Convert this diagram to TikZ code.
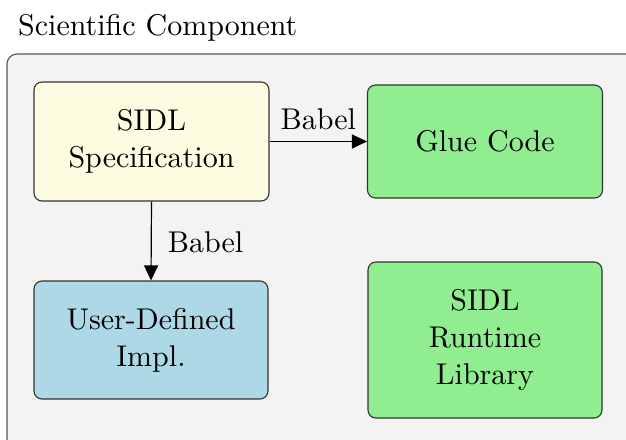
\documentclass[tikz,border=0pt]{standalone}
\usepackage{fontspec}
\setmainfont{lmroman10-regular}[Extension=.otf]
\usetikzlibrary{arrows.meta}
\definecolor{contfill}{HTML}{F3F3F3}
\definecolor{contdraw}{HTML}{555555}
\definecolor{specfill}{HTML}{FDFCE0}
\definecolor{implfill}{HTML}{ADD8E6}
\definecolor{gluefill}{HTML}{90EE90}
\definecolor{boxdraw}{HTML}{333333}
\tikzset{
  box/.style={draw=boxdraw, line width=1.1pt, rounded corners=8pt, align=center,
    font=\fontsize{30}{37}\selectfont, inner sep=0pt},
  conn/.style={line width=1.2pt, -{Triangle[length=15pt,width=14pt]}},
  lbl/.style={font=\fontsize{30}{37}\selectfont, inner sep=0pt}
}
\begin{document}
\begin{tikzpicture}[x=1pt,y=-1pt]
\useasboundingbox (0,0) rectangle (626,439);
\clip (0,0) rectangle (626,439);
\node[lbl, anchor=base west] (title) at (18,35) {Scientific Component};
\draw[fill=contfill, draw=contdraw, line width=1.1pt, rounded corners=10pt] (7,54) rectangle (660,470);
\node[box, fill=specfill, minimum width=235pt, minimum height=119pt] (spec) at (151.5,141.5) {SIDL\\Specification};
\node[box, fill=gluefill, minimum width=235pt, minimum height=113pt] (glue) at (485,141.5) {Glue Code};
\node[box, fill=implfill, minimum width=234pt, minimum height=118pt] (impl) at (151,340) {User-Defined\\Impl.};
\node[box, fill=gluefill, minimum width=234pt, minimum height=156pt] (rt) at (485,340) {SIDL\\Runtime\\Library};
\draw[conn] (spec.east |- glue.west) -- (glue.west) node[lbl, midway, anchor=base, yshift=12pt] (l1) {Babel};
\draw[conn] (spec.south) -- (impl.north) node[lbl, midway, anchor=base west, xshift=16pt, yshift=-11pt] (l2) {Babel};
\end{tikzpicture}
\end{document}
